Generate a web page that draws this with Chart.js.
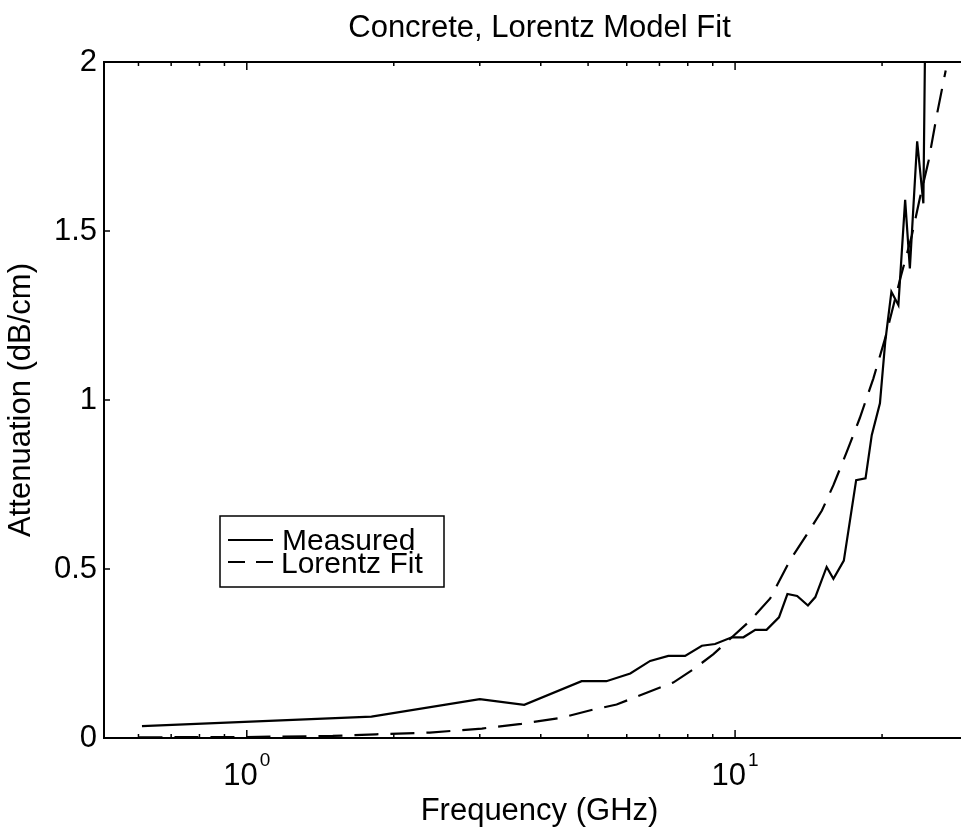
<!DOCTYPE html>
<html>
<head>
<meta charset="utf-8">
<title>Concrete, Lorentz Model Fit</title>
<script src="https://cdn.jsdelivr.net/npm/chart.js@4.4.0/dist/chart.umd.min.js"></script>
<style>
  html, body { margin: 0; padding: 0; background: #fff; overflow: hidden; }
  .chart-wrapper { position: relative; width: 975px; height: 833px; }
</style>
</head>
<body>
<div class="chart-wrapper">
  <canvas id="chart" width="975" height="833"></canvas>
</div>
<script>
// measured attenuation (solid line)
const measuredFreq = [0.61, 1.8, 3.0, 3.7, 4.85, 5.45, 6.1, 6.7, 7.3, 7.9, 8.55, 9.1, 9.85, 10.4, 11.0, 11.6,
  12.3, 12.8, 13.4, 14.1, 14.6, 15.4, 15.9, 16.7, 17.7, 18.5, 19.05, 19.8, 20.3, 20.9, 21.6, 22.3, 22.8,
  23.6, 24.3, 24.6];
const measuredAtten = [0.035, 0.063, 0.115, 0.098, 0.168, 0.168, 0.191, 0.228, 0.243, 0.243, 0.273, 0.278,
  0.298, 0.298, 0.32, 0.32, 0.357, 0.426, 0.42, 0.392, 0.417, 0.506, 0.471, 0.525, 0.763, 0.768, 0.896,
  0.99, 1.172, 1.32, 1.281, 1.592, 1.389, 1.765, 1.582, 2.3];

// lorentz model fit (dashed line)
const fitFreq = [0.6, 1.0, 1.5, 1.84, 2.37, 3.03, 3.65, 4.38, 5.12, 5.72, 6.59, 7.47, 8.21, 9.03, 9.85,
  10.73, 11.8, 12.96, 14.0, 15.06, 15.9, 16.94, 18.0, 19.2, 20.3, 21.8, 23.0, 23.9, 24.9, 25.9, 27.0];
const fitAtten = [0.002, 0.003, 0.006, 0.011, 0.016, 0.028, 0.042, 0.059, 0.084, 0.099, 0.134, 0.164,
  0.203, 0.248, 0.298, 0.347, 0.413, 0.526, 0.6, 0.673, 0.748, 0.847, 0.946, 1.064, 1.183, 1.36, 1.485,
  1.597, 1.707, 1.844, 1.975];

const seriesLabels = ['Measured', 'Lorentz Fit'];
const xMajorTicks = [1, 10];
const xTickExponents = ['0', '1'];
const xMinorTicks = [0.6, 0.7, 0.8, 0.9, 2, 3, 4, 5, 6, 7, 8, 9, 20, 30];
const yTicks = [0, 0.5, 1, 1.5, 2];

const FONT = '"Liberation Sans", Arial, Helvetica, sans-serif';
const chartTitle = 'Concrete, Lorentz Model Fit';

const toPoints = (xs, ys) => xs.map((x, i) => ({ x: x, y: ys[i] }));

// matlab style frame: inward ticks, top line, title, 10^n labels, boxed legend
const matlabFrame = {
  id: 'matlabFrame',
  afterDatasetsDraw(chart) {
    const ctx = chart.ctx;
    const { left, right, top, bottom } = chart.chartArea;
    const xs = chart.scales.x;
    const ys = chart.scales.y;

    const line = (x1, y1, x2, y2) => {
      ctx.beginPath();
      ctx.moveTo(x1, y1);
      ctx.lineTo(x2, y2);
      ctx.stroke();
    };

    ctx.save();
    ctx.strokeStyle = '#000';
    ctx.fillStyle = '#000';
    ctx.setLineDash([]);

    ctx.lineWidth = 2;
    line(left, top, right, top);

    ctx.lineWidth = 1.5;
    xMajorTicks.concat(xMinorTicks).forEach((v) => {
      const px = xs.getPixelForValue(v);
      if (px < left || px > right) return;
      const len = xMajorTicks.includes(v) ? 8 : 4;
      line(px, bottom, px, bottom - len);
      line(px, top, px, top + len);
    });
    yTicks.forEach((v) => {
      const py = ys.getPixelForValue(v);
      line(left, py, left + 6, py);
    });

    // title over the axes
    ctx.font = `31px ${FONT}`;
    ctx.textAlign = 'center';
    ctx.textBaseline = 'alphabetic';
    ctx.fillText(chartTitle, (left + right) / 2, 37);

    // 10^n tick labels
    xMajorTicks.forEach((v, i) => {
      const px = xs.getPixelForValue(v);
      ctx.font = `31px ${FONT}`;
      const baseW = ctx.measureText('10').width;
      ctx.font = `19px ${FONT}`;
      const expW = ctx.measureText(xTickExponents[i]).width;
      const start = px - (baseW + 2 + expW) / 2;
      ctx.textAlign = 'left';
      ctx.font = `31px ${FONT}`;
      ctx.fillText('10', start, 785);
      ctx.font = `19px ${FONT}`;
      ctx.fillText(xTickExponents[i], start + baseW + 2, 766);
    });

    // legend box
    const bx = left + 116, by = top + 454, bw = 224, bh = 71;
    ctx.fillStyle = '#fff';
    ctx.fillRect(bx, by, bw, bh);
    ctx.lineWidth = 1.5;
    ctx.strokeRect(bx, by, bw, bh);

    ctx.fillStyle = '#000';
    ctx.lineWidth = 2.2;
    line(bx + 8, by + 24, bx + 53, by + 24);
    ctx.setLineDash([17, 11]);
    line(bx + 8, by + 46, bx + 53, by + 46);
    ctx.setLineDash([]);

    ctx.font = `30px ${FONT}`;
    ctx.textAlign = 'left';
    const labels = chart.data.datasets.map((d) => d.label);
    ctx.fillText(labels[0], bx + 62, by + 34);
    ctx.fillText(labels[1], bx + 61, by + 57);

    ctx.restore();
  }
};

const config = {
  type: 'line',
  data: {
    datasets: [
      {
        label: seriesLabels[0],
        data: toPoints(measuredFreq, measuredAtten),
        borderColor: '#000',
        borderWidth: 2.2,
        pointRadius: 0,
        tension: 0,
        fill: false
      },
      {
        label: seriesLabels[1],
        data: toPoints(fitFreq, fitAtten),
        borderColor: '#000',
        borderWidth: 2.2,
        borderDash: [24, 12],
        pointRadius: 0,
        tension: 0,
        fill: false
      }
    ]
  },
  options: {
    responsive: false,
    animation: false,
    layout: { padding: { top: 62, right: 0, bottom: 0, left: 0 } },
    plugins: {
      legend: { display: false },
      tooltip: { enabled: false },
      title: { display: false }
    },
    scales: {
      x: {
        type: 'logarithmic',
        min: 0.51,
        max: 31,
        grid: { display: false, drawTicks: false },
        border: { display: true, color: '#000', width: 2 },
        ticks: { display: false },
        title: {
          display: true,
          text: 'Frequency (GHz)',
          color: '#000',
          font: { family: FONT, size: 31 },
          padding: { top: 0, bottom: 3 }
        },
        afterFit: (scale) => { scale.height = 95; }
      },
      y: {
        min: 0,
        max: 2,
        grid: { display: false, drawTicks: false },
        border: { display: true, color: '#000', width: 2 },
        ticks: {
          stepSize: 0.5,
          color: '#000',
          padding: 7,
          font: { family: FONT, size: 31 },
          callback: (value) => String(value)
        },
        title: {
          display: true,
          text: 'Attenuation (dB/cm)',
          color: '#000',
          font: { family: FONT, size: 31 },
          padding: { top: 3, bottom: 0 }
        },
        afterFit: (scale) => { scale.width = 104; }
      }
    }
  },
  plugins: [matlabFrame]
};

new Chart(document.getElementById('chart'), config);
</script>
</body>
</html>
